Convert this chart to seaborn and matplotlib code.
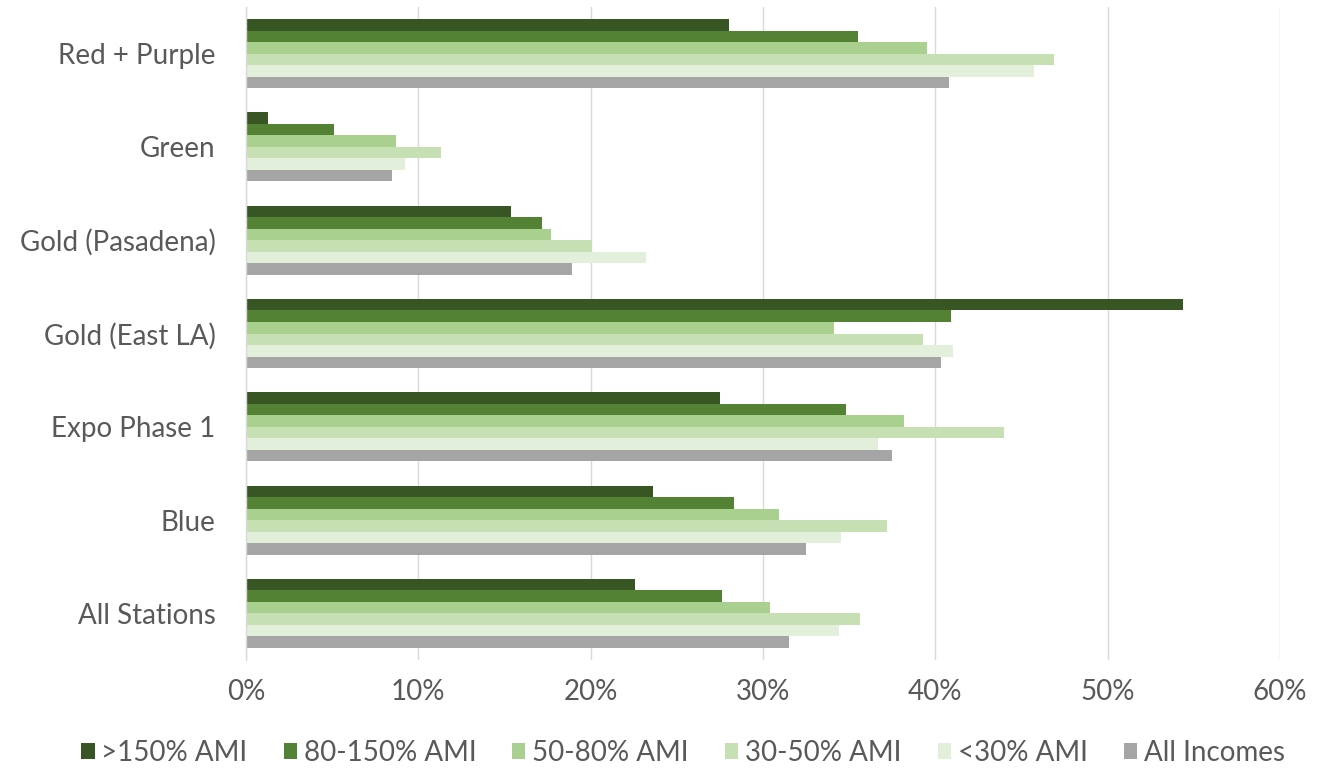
import matplotlib
matplotlib.use("Agg")
import matplotlib.pyplot as plt
import seaborn as sns
import pandas as pd
from matplotlib.ticker import PercentFormatter
from matplotlib.patches import Patch

categories = ["Red + Purple", "Green", "Gold (Pasadena)", "Gold (East LA)",
              "Expo Phase 1", "Blue", "All Stations"]
series_names = [">150% AMI", "80-150% AMI", "50-80% AMI", "30-50% AMI",
                "<30% AMI", "All Incomes"]
ami_over150 = [28.0, 1.3, 15.4, 54.4, 27.5, 23.6, 22.6]
ami_80_150 = [35.5, 5.1, 17.2, 40.9, 34.8, 28.3, 27.6]
ami_50_80 = [39.5, 8.7, 17.7, 34.1, 38.2, 30.9, 30.4]
ami_30_50 = [46.9, 11.3, 20.1, 39.3, 44.0, 37.2, 35.6]
ami_under30 = [45.7, 9.2, 23.2, 41.0, 36.7, 34.5, 34.4]
all_incomes = [40.8, 8.5, 18.9, 40.3, 37.5, 32.5, 31.5]
x_ticks = [0, 10, 20, 30, 40, 50, 60]

colors = ["#375623", "#548235", "#A9D08E", "#C6E0B4", "#E2EFDA", "#A5A5A5"]

series_vals = [ami_over150, ami_80_150, ami_50_80, ami_30_50, ami_under30, all_incomes]
rows = []
for name, vals in zip(series_names, series_vals):
    for cat, v in zip(categories, vals):
        rows.append({"Line": cat, "Group": name, "Value": v})
df = pd.DataFrame(rows)

sns.set_theme(style="white")
plt.rcParams["font.family"] = ["Lato", "DejaVu Sans"]

W, H = 1325, 771
fig = plt.figure(figsize=(W / 100, H / 100), dpi=100)
ax = fig.add_axes([246 / W, 1 - 660 / H, (1280 - 246) / W, (660 - 7) / H])

sns.barplot(data=df, y="Line", x="Value", hue="Group", order=categories,
            hue_order=series_names, palette=colors, orient="h",
            width=0.74, ax=ax, saturation=1, linewidth=0, legend=False)

ax.set_xlim(0, 60)
ax.set_xticks(x_ticks)
ax.xaxis.set_major_formatter(PercentFormatter(decimals=0))
ax.set_xlabel("")
ax.set_ylabel("")
ax.grid(axis="x", color="#D9D9D9", linewidth=1.0)
ax.grid(axis="y", visible=False)
ax.set_axisbelow(True)
for s in ["top", "right", "bottom"]:
    ax.spines[s].set_visible(False)
ax.spines["left"].set_color("#D9D9D9")
ax.spines["left"].set_linewidth(1.0)
ax.tick_params(axis="x", length=0, pad=14, labelsize=20, labelcolor="#595959")
ax.tick_params(axis="y", length=0, pad=22, labelsize=20, labelcolor="#595959")

handles = [Patch(facecolor=c, edgecolor="none") for c in colors]
fig.legend(handles, series_names, loc="center", bbox_to_anchor=(683 / W, 1 - 753 / H),
           ncol=6, frameon=False, fontsize=20, labelcolor="#595959",
           handlelength=0.47, handleheight=0.47, handletextpad=0.25, columnspacing=1.3,
           borderpad=0, borderaxespad=0)

fig.savefig("out.png", dpi=100, facecolor="white")
